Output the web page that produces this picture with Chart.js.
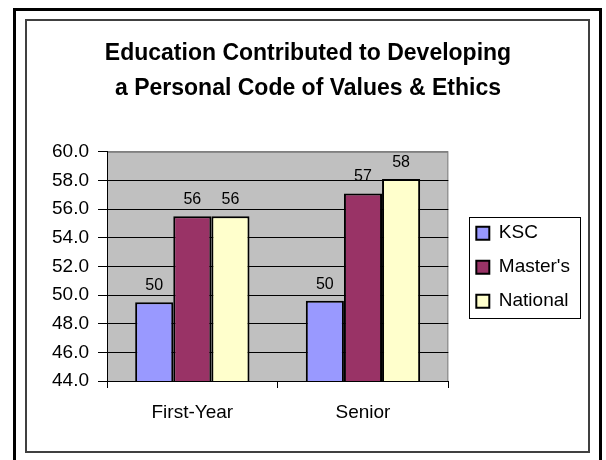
<!DOCTYPE html>
<html>
<head>
<meta charset="utf-8">
<script src="https://cdn.jsdelivr.net/npm/chart.js@4.4.1/dist/chart.umd.min.js"></script>
<style>
  body { margin: 0; background: #fff; }
  canvas { display: block; }
</style>
</head>
<body>
<canvas id="chart" width="606" height="460"></canvas>
<script>
const categories = ["First-Year", "Senior"];
const kscValues = [49.5, 49.6];
const mastersValues = [55.5, 57.1];
const nationalValues = [55.5, 58.1];
const titleLines = ["Education Contributed to Developing", "a Personal Code of Values & Ethics"];

const FONT = '"Liberation Sans", Arial, sans-serif';
const LEGEND_SHIFT = 13;

// frames + grey plot area + legend box
const framePlugin = {
  id: "frame",
  afterLayout(chart) {
    // push the legend a little away from the plot
    chart.legend.left += LEGEND_SHIFT;
    chart.legend.right += LEGEND_SHIFT;
  },
  beforeDraw(chart) {
    const ctx = chart.ctx;
    const a = chart.chartArea;
    ctx.save();
    ctx.fillStyle = "#fff";
    ctx.fillRect(0, 0, chart.width, chart.height);
    ctx.strokeStyle = "#000";
    ctx.lineWidth = 3;
    ctx.strokeRect(14.5, 9.5, 586, 470);
    ctx.strokeStyle = "#404040";
    ctx.lineWidth = 2;
    ctx.strokeRect(26, 20, 563, 432);
    ctx.fillStyle = "#c0c0c0";
    ctx.fillRect(a.left, a.top, a.right - a.left, a.bottom - a.top);
    ctx.strokeStyle = "#808080";
    ctx.lineWidth = 1;
    ctx.strokeRect(a.left + 0.5, a.top + 0.5, a.right - a.left - 1, a.bottom - a.top);
    ctx.restore();
  },
  afterDraw(chart) {
    const boxes = chart.legend.legendHitBoxes;
    if (!boxes || !boxes.length) return;
    let l = Infinity, t = Infinity, r = -Infinity, b = -Infinity;
    boxes.forEach(h => {
      l = Math.min(l, h.left); t = Math.min(t, h.top);
      r = Math.max(r, h.left + h.width); b = Math.max(b, h.top + h.height);
    });
    const ctx = chart.ctx;
    ctx.save();
    ctx.strokeStyle = "#000";
    ctx.lineWidth = 1;
    ctx.strokeRect(Math.round(l - 7) + 0.5, Math.round(t - 7) + 0.5, Math.round(r - l + 17), Math.round(b - t + 14));
    ctx.restore();
  }
};

// value labels above bars
const valueLabels = {
  id: "valueLabels",
  afterDatasetsDraw(chart) {
    const ctx = chart.ctx;
    ctx.save();
    ctx.font = "16px " + FONT;
    ctx.fillStyle = "#000";
    ctx.textAlign = "center";
    ctx.textBaseline = "alphabetic";
    chart.data.datasets.forEach((ds, i) => {
      chart.getDatasetMeta(i).data.forEach((bar, j) => {
        ctx.fillText(Math.round(ds.data[j]), bar.x, bar.y - 12);
      });
    });
    ctx.restore();
  }
};

new Chart(document.getElementById("chart"), {
  type: "bar",
  data: {
    labels: categories,
    datasets: [
      { label: "KSC", data: kscValues, backgroundColor: "#9999ff" },
      { label: "Master's", data: mastersValues, backgroundColor: "#993366" },
      { label: "National", data: nationalValues, backgroundColor: "#ffffcc" }
    ]
  },
  options: {
    responsive: false,
    animation: false,
    devicePixelRatio: 1,
    layout: { padding: { top: 22, left: 49, right: 39, bottom: 0 } },
    datasets: {
      bar: {
        borderColor: "#000",
        borderWidth: 2,
        categoryPercentage: 0.67,
        barPercentage: 1.0
      }
    },
    plugins: {
      title: {
        display: true,
        text: titleLines,
        color: "#000",
        font: { family: FONT, size: 23, weight: "bold", lineHeight: 1.54 },
        padding: { top: 14, bottom: 45 }
      },
      legend: {
        position: "right",
        title: {
          display: true,
          text: " ",
          font: { family: FONT, size: 12 },
          padding: { top: 38, bottom: 0 }
        },
        labels: {
          color: "#000",
          font: { family: FONT, size: 19 },
          boxWidth: 13,
          boxHeight: 13,
          padding: 15
        }
      },
      tooltip: { enabled: false }
    },
    scales: {
      x: {
        afterFit(scale) { scale.height = 79; },
        grid: {
          drawOnChartArea: false,
          drawTicks: true,
          tickLength: 7,
          color: "#000"
        },
        border: { color: "#000", width: 1 },
        ticks: {
          color: "#000",
          padding: 13,
          font: { family: FONT, size: 19 }
        }
      },
      y: {
        min: 44,
        max: 60,
        afterFit(scale) { scale.width = 58; },
        grid: {
          color: ctx => (ctx.tick && ctx.tick.value === 60 ? "#808080" : "#000"),
          tickColor: "#000",
          tickLength: 9
        },
        border: { color: "#000", width: 1 },
        ticks: {
          stepSize: 2,
          color: "#000",
          padding: 9,
          font: { family: FONT, size: 19 },
          callback: v => v.toFixed(1)
        }
      }
    }
  },
  plugins: [framePlugin, valueLabels]
});
</script>
</body>
</html>
